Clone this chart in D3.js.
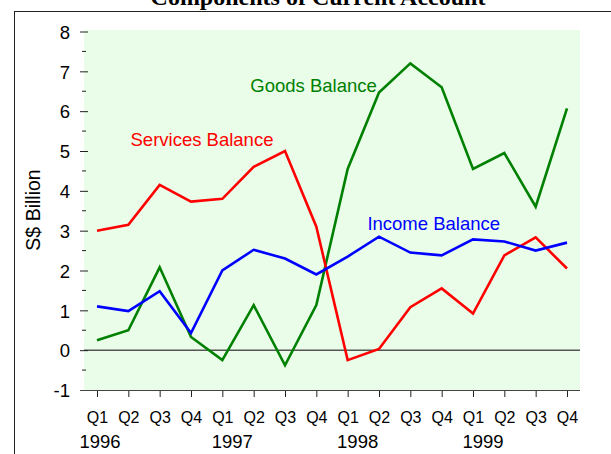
<!DOCTYPE html>
<html>
<head>
<meta charset="utf-8">
<script src="https://cdn.jsdelivr.net/npm/d3@7"></script>
<style>
  html, body { margin: 0; padding: 0; background: #fff; }
  svg { display: block; }
  text { font-family: "Liberation Sans", Arial, sans-serif; }
</style>
</head>
<body>
<svg id="chart" width="611" height="454"></svg>
<script>
// Quarterly categories, 1996 Q1 .. 1999 Q4
const years = ["1996", "1997", "1998", "1999"];
const quarters = ["Q1", "Q2", "Q3", "Q4"];
const categories = years.flatMap(y => quarters.map(q => y + " " + q));

// Components of current account, S$ billion
const goodsBalance    = [0.25, 0.50, 2.08, 0.33, -0.25, 1.13, -0.38, 1.13, 4.55, 6.47, 7.20, 6.60, 4.55, 4.95, 3.60, 6.07];
const servicesBalance = [3.00, 3.15, 4.15, 3.73, 3.80, 4.60, 5.00, 3.10, -0.25, 0.03, 1.08, 1.55, 0.92, 2.38, 2.83, 2.05];
const incomeBalance   = [1.10, 0.98, 1.48, 0.43, 2.00, 2.52, 2.30, 1.90, 2.35, 2.85, 2.45, 2.38, 2.78, 2.73, 2.50, 2.70];

const yTicks = [-1, 0, 1, 2, 3, 4, 5, 6, 7, 8];
const yMinorTicks = [-0.5, 0.5, 1.5, 2.5, 3.5, 4.5, 5.5, 6.5, 7.5];

const series = [
  { name: "Goods Balance",    values: goodsBalance,    color: "#008000" },
  { name: "Services Balance", values: servicesBalance, color: "#ff0000" },
  { name: "Income Balance",   values: incomeBalance,   color: "#0000ff" }
];

const svg = d3.select("#chart");

// Plot frame
const plot = { left: 84, right: 580, top: 30, bottom: 390 };

const x = d3.scalePoint().domain(categories).range([97, 567]);
const xi = d3.scaleLinear().domain([0, categories.length - 1]).range([97, 567]);
const y = d3.scaleLinear().domain([-1, 8]).range([390, 31.5]);

// Outer border (extends past the visible area to the right and bottom)
svg.append("rect")
  .attr("x", 14.5).attr("y", 11.5)
  .attr("width", 700).attr("height", 600)
  .attr("fill", "none").attr("stroke", "#222").attr("stroke-width", 1);

// Title
svg.append("text")
  .attr("x", 318).attr("y", 5)
  .attr("text-anchor", "middle")
  .style("font-family", "'Liberation Serif', 'Times New Roman', serif")
  .style("font-weight", "bold")
  .style("font-size", "24px")
  .text("Components of Current Account");

// Plot background
svg.append("rect")
  .attr("x", plot.left).attr("y", plot.top)
  .attr("width", plot.right - plot.left).attr("height", plot.bottom - plot.top)
  .attr("fill", "#e9fde9");

// Zero line
svg.append("line")
  .attr("x1", plot.left).attr("x2", plot.right)
  .attr("y1", y(0)).attr("y2", y(0))
  .attr("stroke", "#555").attr("stroke-width", 1.5);

// Y axis: major ticks with labels
const yAxis = d3.axisLeft(y).tickValues(yTicks).tickSize(8).tickPadding(10).tickFormat(d => String(d));
const gy = svg.append("g").attr("transform", "translate(88,0)").call(yAxis);
gy.select(".domain").remove();
gy.selectAll(".tick line").attr("stroke", "#222").attr("stroke-width", 1);
gy.selectAll(".tick text")
  .style("font-size", "18.5px")
  .style("font-family", "'Liberation Sans', Arial, sans-serif")
  .attr("fill", "#000")
  .attr("dy", "0.36em");

// Y axis: minor ticks
svg.append("g").selectAll("line").data(yMinorTicks).join("line")
  .attr("x1", 82).attr("x2", 86)
  .attr("y1", d => y(d)).attr("y2", d => y(d))
  .attr("stroke", "#222").attr("stroke-width", 1);

// Y axis title
svg.append("text")
  .attr("transform", "translate(40," + ((plot.top + plot.bottom) / 2) + ") rotate(-90)")
  .attr("text-anchor", "middle")
  .style("font-size", "19.5px")
  .text("S$ Billion");

// X axis
const xAxis = d3.axisBottom(x).tickSize(7).tickFormat(d => d.split(" ")[1]);
const gx = svg.append("g").attr("transform", "translate(0," + plot.bottom + ")").call(xAxis);
gx.select(".domain").remove();
gx.selectAll(".tick line").attr("stroke", "#222").attr("stroke-width", 1);
gx.selectAll(".tick text")
  .style("font-size", "16px")
  .style("font-family", "'Liberation Sans', Arial, sans-serif")
  .attr("fill", "#000")
  .attr("y", 33).attr("dy", 0);

svg.append("line")
  .attr("x1", 80).attr("x2", plot.right)
  .attr("y1", plot.bottom + 0.5).attr("y2", plot.bottom + 0.5)
  .attr("stroke", "#444").attr("stroke-width", 1);

// Year labels beneath the first quarter of each year
svg.append("g").selectAll("text").data(years).join("text")
  .attr("x", (d, i) => x(d + " Q1") + (i === 0 ? 3 : 10))
  .attr("y", 448)
  .attr("text-anchor", "middle")
  .style("font-size", "18.5px")
  .text(d => d);

// Series lines
const line = d3.line()
  .x((d, i) => x(categories[i]))
  .y(d => y(d));

svg.append("g").selectAll("path").data(series).join("path")
  .attr("d", s => line(s.values))
  .attr("fill", "none")
  .attr("stroke", s => s.color)
  .attr("stroke-width", 2.6)
  .attr("stroke-linejoin", "miter");

// Series labels placed in data coordinates
const labelPlacement = {
  "Goods Balance":    { i: 8.93, v: 6.49, anchor: "end" },
  "Services Balance": { i: 1.07, v: 5.13, anchor: "start" },
  "Income Balance":   { i: 8.63, v: 3.02, anchor: "start" }
};
svg.append("g").selectAll("text").data(series).join("text")
  .attr("x", s => xi(labelPlacement[s.name].i))
  .attr("y", s => y(labelPlacement[s.name].v))
  .attr("text-anchor", s => labelPlacement[s.name].anchor)
  .attr("fill", s => s.color)
  .style("font-size", "18.5px")
  .text(s => s.name);
</script>
</body>
</html>
